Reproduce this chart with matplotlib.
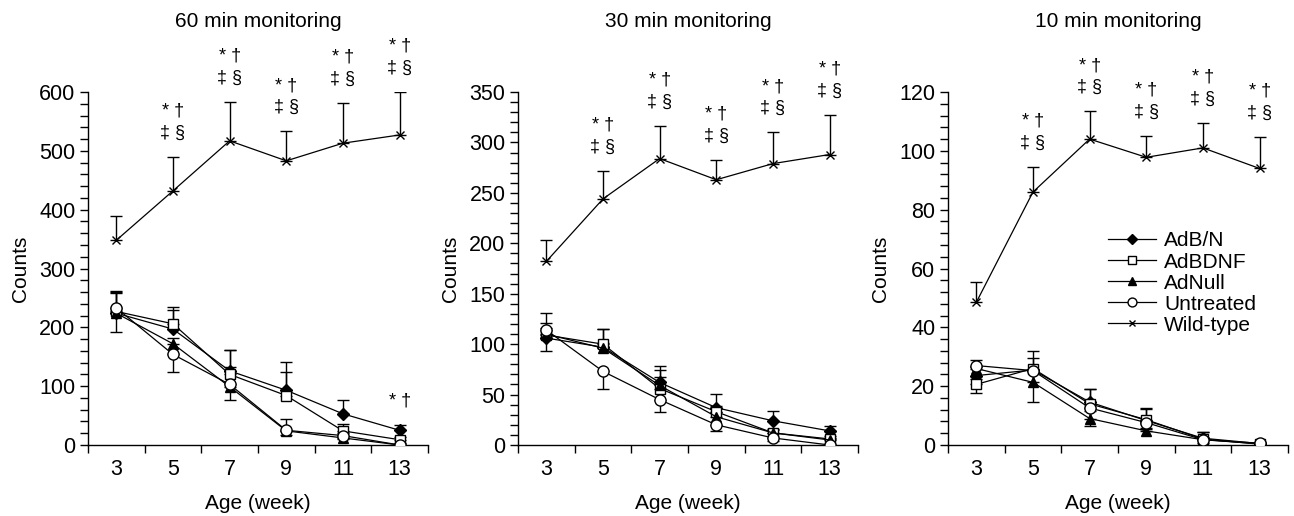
import matplotlib
matplotlib.use("Agg")
import matplotlib.pyplot as plt
from matplotlib.ticker import MultipleLocator, FixedLocator, NullFormatter

plt.rcParams["font.family"] = ["Liberation Sans", "DejaVu Sans"]

weeks = [3, 5, 7, 9, 11, 13]
groups = ["AdB/N", "AdBDNF", "AdNull", "Untreated", "Wild-type"]

# 60 min monitoring
adbn_60 = [224, 197, 126, 93, 53, 25]
adbn_60_err = [36, 33, 36, 48, 24, 9]
adbdnf_60 = [227, 206, 120, 84, 24, 9]
adbdnf_60_err = [34, 28, 42, 40, 11, 5]
adnull_60 = [224, 172, 99, 24, 12, 0]
adnull_60_err = [35, 10, 33, 21, 8, 3]
untreated_60 = [233, 154, 103, 25, 16, 0]
untreated_60_err = [41, 30, 26, 8, 6, 0]
wild_60 = [348, 432, 517, 483, 513, 527]
wild_60_err = [41, 58, 66, 50, 68, 73]

# 30 min monitoring
adbn_30 = [106, 97, 62, 37, 24, 14]
adbn_30_err = [25, 18, 16, 14, 10, 5]
adbdnf_30 = [109, 100, 56, 33, 12, 6]
adbdnf_30_err = [12, 15, 18, 6, 4, 3]
adnull_30 = [110, 96, 59, 28, 12, 5]
adnull_30_err = [6, 5, 8, 5, 3, 2]
untreated_30 = [114, 73, 45, 20, 7, 0]
untreated_30_err = [21, 17, 12, 6, 3, 0]
wild_30 = [182, 244, 284, 263, 279, 288]
wild_30_err = [21, 28, 32, 20, 31, 39]

# 10 min monitoring
adbn_10 = [23.6, 25.5, 14.6, 8.3, 2.3, 0.5]
adbn_10_err = [3, 4, 4.5, 4, 2, 0.5]
adbdnf_10 = [20.6, 26, 14, 8.6, 2, 0.3]
adbdnf_10_err = [2, 6, 5, 4, 2.5, 0.5]
adnull_10 = [26, 21.3, 9, 4.8, 1.8, 0.4]
adnull_10_err = [3, 4, 2.6, 1, 0.5, 0.3]
untreated_10 = [27, 25.3, 12.6, 7.6, 1.8, 0.6]
untreated_10_err = [9.2, 10.7, 6.2, 2, 1, 0.5]
wild_10 = [48.5, 86, 104, 97.8, 101, 94]
wild_10_err = [7, 8.4, 9.4, 7.2, 8.5, 10.8]

titles = ["60 min monitoring", "30 min monitoring", "10 min monitoring"]
ymax = [600, 350, 120]
ymajor = [100, 50, 20]
yminor = [20, 10, 4]

panels = [
    [adbn_60, adbdnf_60, adnull_60, untreated_60, wild_60],
    [adbn_30, adbdnf_30, adnull_30, untreated_30, wild_30],
    [adbn_10, adbdnf_10, adnull_10, untreated_10, wild_10],
]
panel_errs = [
    [adbn_60_err, adbdnf_60_err, adnull_60_err, untreated_60_err, wild_60_err],
    [adbn_30_err, adbdnf_30_err, adnull_30_err, untreated_30_err, wild_30_err],
    [adbn_10_err, adbdnf_10_err, adnull_10_err, untreated_10_err, wild_10_err],
]
# which side of the mean the error bar is drawn on
err_up = [True, True, True, False, True]

styles = [
    dict(marker="D", mfc="black", mec="black", ms=6.5),
    dict(marker="s", mfc="white", mec="black", ms=6.5),
    dict(marker="^", mfc="black", mec="black", ms=7.5),
    dict(marker="o", mfc="white", mec="black", ms=8),
    dict(marker="x", mfc="black", mec="black", ms=6, mew=1.0),
]

FS = 15
fig = plt.figure(figsize=(12.94, 5.16), dpi=100)
lefts = [0.068, 0.4003, 0.7326]
axes_w = 0.2627
bottom = 0.1376
height = 0.8217 - 0.1376

for p in range(3):
    ax = fig.add_axes([lefts[p], bottom, axes_w, height])
    for g in range(5):
        vals = panels[p][g]
        err = panel_errs[p][g]
        zeros = [0] * len(err)
        yerr = [zeros, err] if err_up[g] else [err, zeros]
        ax.errorbar(weeks, vals, yerr=yerr, fmt="none", ecolor="black",
                    elinewidth=1.0, capsize=4.5, capthick=1.0, zorder=2)
        ax.plot(weeks, vals, color="black", lw=0.9, label=groups[g],
                zorder=3, **styles[g])

    # significance marks above the wild-type error bars
    wild = panels[p][4]
    wild_err = panel_errs[p][4]
    for w, v, e in zip(weeks[1:], wild[1:], wild_err[1:]):
        ax.annotate("* \u2020", (w, v + e), xytext=(0, 33), textcoords="offset points",
                    ha="center", va="center", fontsize=13)
        ax.annotate("\u2021 \u00a7", (w, v + e), xytext=(0, 17), textcoords="offset points",
                    ha="center", va="center", fontsize=13)
    if p == 0:
        ax.annotate("* \u2020", (weeks[-1], adbn_60[-1] + adbn_60_err[-1]), xytext=(0, 17),
                    textcoords="offset points", ha="center", va="center", fontsize=13)

    ax.set_xlim(2, 14)
    ax.set_ylim(0, ymax[p])
    ax.xaxis.set_major_locator(FixedLocator([2, 4, 6, 8, 10, 12, 14]))
    ax.xaxis.set_major_formatter(NullFormatter())
    ax.xaxis.set_minor_locator(FixedLocator(weeks))
    ax.set_xticklabels([str(w) for w in weeks], minor=True)
    ax.tick_params(axis="x", which="minor", length=0, pad=10, labelsize=FS + 0.5)
    ax.tick_params(axis="x", which="major", length=6, width=1.0, direction="out")
    ax.yaxis.set_major_locator(MultipleLocator(ymajor[p]))
    ax.yaxis.set_minor_locator(MultipleLocator(yminor[p]))
    ax.tick_params(axis="y", which="both", length=6, width=1.0, direction="out",
                   labelsize=FS + 0.5, pad=3)
    for side in ["top", "right"]:
        ax.spines[side].set_visible(False)
    for side in ["left", "bottom"]:
        ax.spines[side].set_linewidth(1.0)
    ax.set_xlabel("Age (week)", fontsize=FS, labelpad=10)
    ax.set_ylabel("Counts", fontsize=FS, labelpad=7)
    ax.set_title(titles[p], fontsize=FS, y=1.185, pad=0)

    if p == 2:
        ax.legend(loc="upper left", bbox_to_anchor=(0.47, 0.605), frameon=False,
                  fontsize=FS, handlelength=2.3, handletextpad=0.4, markerscale=0.8,
                  labelspacing=0.1, borderpad=0, borderaxespad=0)

fig.savefig("out.png", dpi=100)
